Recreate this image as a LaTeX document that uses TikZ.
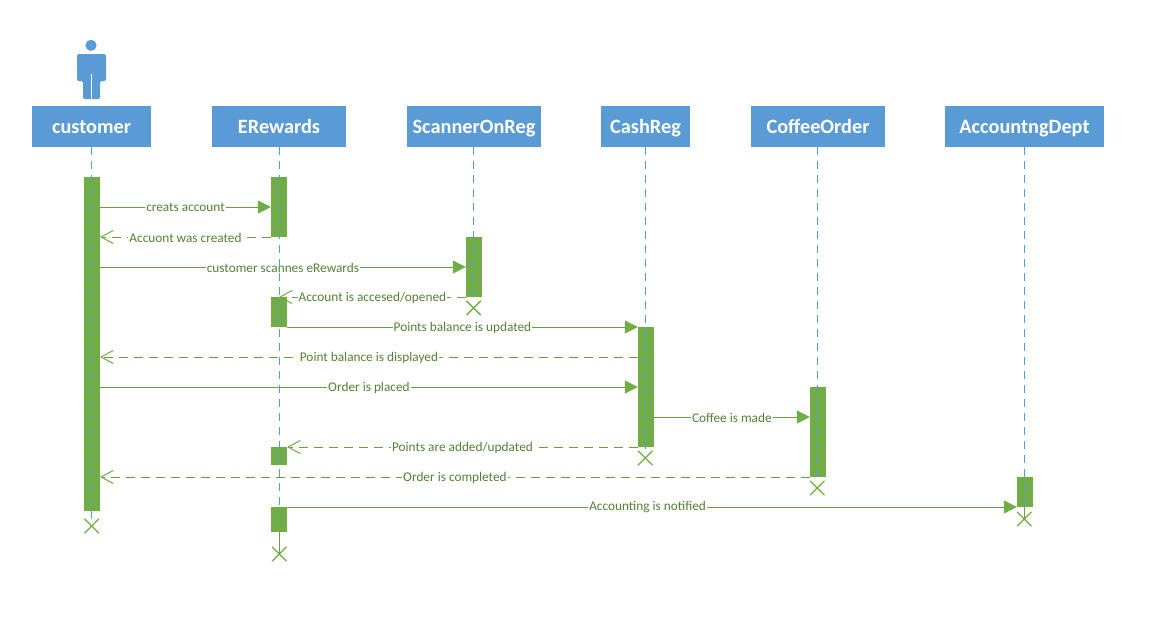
\documentclass[tikz,border=0pt]{standalone}
\usepackage{fontspec}
\setmainfont{Carlito}
\usetikzlibrary{arrows.meta,shapes.misc}
\definecolor{hblue}{HTML}{5B9BD5}
\definecolor{lgreen}{HTML}{70AD47}
\definecolor{dgreen}{HTML}{6A9E44}
\definecolor{tgreen}{HTML}{548235}
\tikzset{
  header/.style={fill=hblue,text=white,font=\fontsize{20.3}{22}\bfseries\selectfont,inner sep=0pt,minimum height=41pt,text height=17pt,text depth=4pt,anchor=center},
  bar/.style={inner sep=0pt,minimum width=15.8pt,anchor=north},
  life/.style={draw=hblue,line width=1pt,dash pattern=on 8pt off 6pt},
  endx/.style={cross out,draw=lgreen,line width=1.3pt,minimum size=13pt,inner sep=0pt},
  sync/.style={draw=dgreen,line width=1pt,-{Triangle[length=13pt,width=13pt,fill=lgreen,color=lgreen]}},
  reply/.style={draw=dgreen,line width=1pt,dash pattern=on 9pt off 6pt,-{Straight Barb[length=12pt,width=13pt,color=lgreen,line width=1pt]}},
  lab/.style={fill=white,text=tgreen,font=\fontsize{13.3}{15}\selectfont,inner xsep=1pt,inner ysep=1pt,yshift=-.5pt}
}
\newcommand{\msg}[6]{\draw[#1] (#2 |- 0,#4) -- node[lab,pos=#6]{#5} (#3 |- 0,#4);}
\begin{document}
\begin{tikzpicture}[x=1pt,y=-1pt]
\useasboundingbox (0,0) rectangle (1160,619);
% actor
\fill[hblue] (91,45.3) circle (5.6);
\fill[hblue,rounded corners=1.5pt] (77,81) -- (77,54) -- (106,54) -- (106,81) -- (100,81) -- (100,99) -- (83,99) -- (83,81) -- cycle;
\draw[white,line width=.5pt] (91.5,74) -- (91.5,99);
% headers
\node[header,minimum width=119pt] (hA) at (91.5,126.5) {customer};
\node[header,minimum width=134pt] (hB) at (279,126.5) {ERewards};
\node[header,minimum width=134pt] (hC) at (474,126.5) {ScannerOnReg};
\node[header,minimum width=89pt] (hD) at (645.5,126.5) {CashReg};
\node[header,minimum width=134pt] (hE) at (818,126.5) {CoffeeOrder};
\node[header,minimum width=159pt] (hF) at (1024.5,126.5) {AccountngDept};
% activation bars (positions only; painted after the messages)
\path
 node[bar,minimum height=334pt] (bA) at (92,177) {}
 node[bar,minimum height=60pt] (bB1) at (279,177) {}
 node[bar,minimum height=30pt] (bB2) at (279,297) {}
 node[bar,minimum height=18pt] (bB3) at (279,447) {}
 node[bar,minimum height=25pt] (bB4) at (279,507) {}
 node[bar,minimum height=60pt] (bC) at (473.9,237) {}
 node[bar,minimum height=120pt] (bD) at (645.9,327) {}
 node[bar,minimum height=90pt] (bE) at (817.9,387) {}
 node[bar,minimum height=30pt] (bF) at (1025,477) {};
% destruction marks
\node[endx] (xA) at (91.7,526) {};
\node[endx] (xB) at (279.3,554) {};
\node[endx] (xC) at (473.6,308) {};
\node[endx] (xD) at (645.3,458) {};
\node[endx] (xE) at (817.3,488) {};
\node[endx] (xF) at (1024.3,519) {};
% messages
\msg{sync}{bA.east}{bB1.west}{207}{creats account}{.5}
\msg{reply}{bB1.west}{bA.east}{237}{Accuont was created}{.5}
\msg{sync}{bA.east}{bC.west}{267}{customer scannes eRewards}{.5}
\msg{reply}{bC.west}{bB2.north}{297}{Account is accesed/opened}{.5}
\msg{sync}{bB2.east}{bD.west}{327}{Points balance is updated}{.5}
\msg{reply}{bD.west}{bA.east}{357}{Point balance is displayed}{.5}
\msg{sync}{bA.east}{bD.west}{387}{Order is placed}{.5}
\msg{sync}{bD.east}{bE.west}{417}{Coffee is made}{.5}
\msg{reply}{bD.west}{bB3.east}{447}{Points are added/updated}{.5}
\msg{reply}{bE.west}{bA.east}{477}{Order is completed}{.5}
\msg{sync}{bB4.east}{bF.west}{507}{Accounting is notified}{.494}
% repaint bars above the message lines
\foreach \b in {bA,bB1,bB2,bB3,bB4,bC,bD,bE,bF}
  \fill[lgreen] (\b.north west) rectangle (\b.south east);
% lifelines
\draw[life] (xA.center |- hA.south) -- (xA.north);
\draw[life] (xB.center |- hB.south) -- (xB.center |- bB4.north);
\draw[life] (xC.center |- hC.south) -- (xC.north);
\draw[life] (xD.center |- hD.south) -- (xD.north);
\draw[life] (xE.center |- hE.south) -- (xE.north);
\draw[life] (xF.center |- hF.south) -- (xF.center |- bF.south);
\draw[dgreen,line width=1pt] (xB.center |- bB4.south) -- (xB.center);
\draw[dgreen,line width=1pt] (xF.center |- bF.south) -- (xF.center);
\end{tikzpicture}
\end{document}
